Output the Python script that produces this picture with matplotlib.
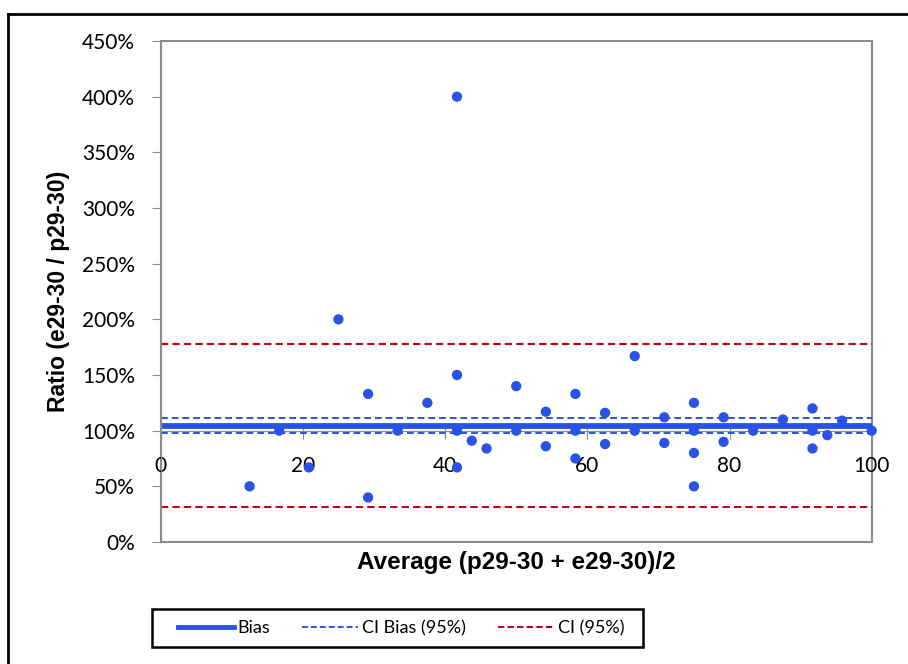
import matplotlib.pyplot as plt
from matplotlib.lines import Line2D
from matplotlib.patches import Rectangle
from matplotlib.ticker import PercentFormatter

# data (x = average, y = ratio in %)
avg = [12.5, 16.67, 20.83, 25.0, 29.17, 29.17, 33.33, 37.5,
       41.67, 41.67, 41.67, 41.67, 43.75, 45.83, 50.0, 50.0,
       54.17, 54.17, 58.33, 58.33, 58.33, 62.5, 62.5, 66.67, 66.67,
       70.83, 70.83, 75.0, 75.0, 75.0, 75.0, 79.17, 79.17, 83.33,
       87.5, 91.67, 91.67, 91.67, 93.75, 95.83, 100.0]
ratio = [50, 100, 67, 200, 133, 40, 100, 125,
         400, 150, 100, 67, 91, 84, 140, 100,
         117, 86, 133, 100, 75, 116, 88, 167, 100,
         112, 89, 125, 100, 80, 50, 112, 90, 100,
         110, 120, 100, 84, 96, 109, 100]

bias = 104.5
ci_bias = [97.5, 111.5]
ci = [31.5, 177.5]

x_ticks = [0, 20, 40, 60, 80, 100]
y_ticks = [0, 50, 100, 150, 200, 250, 300, 350, 400, 450]

blue = '#2a52e6'
red = '#c00018'
grey = '#8c8c8c'
tick_font = 'Lato'

W, H = 908, 664
fig = plt.figure(figsize=(W/100, H/100), dpi=100)
ax = fig.add_axes([160.7/W, 1-542/H, (871.7-160.7)/W, (542-41)/H])

ax.axhline(bias, color=blue, lw=4.2, zorder=2)
for v in ci_bias:
    ax.axhline(v, color=blue, lw=1.4, dashes=(3.5, 2), zorder=2)
for v in ci:
    ax.axhline(v, color=red, lw=1.5, dashes=(3.5, 2), zorder=2)

ax.scatter(avg, ratio, s=55, color=blue, edgecolors='none', zorder=4, clip_on=False)

ax.set_xlim(0, 100)
ax.set_ylim(0, 450)
ax.set_xticks(x_ticks)
ax.set_yticks(y_ticks)
ax.yaxis.set_major_formatter(PercentFormatter(decimals=0))

for s in ['top', 'right']:
    ax.spines[s].set_visible(False)
ax.spines['bottom'].set_position(('data', 100))
ax.spines['bottom'].set_color(grey)
ax.spines['bottom'].set_zorder(3)
ax.spines['left'].set_color(grey)
ax.add_patch(Rectangle((0, 0), 1, 1, transform=ax.transAxes, fill=False,
                       edgecolor=grey, lw=1.5, clip_on=False, zorder=1))

ax.tick_params(axis='x', direction='inout', length=11, pad=13, color=grey,
               labelsize=15)
ax.tick_params(axis='y', direction='out', length=6.5, pad=12, color=grey,
               labelsize=15)
for lab in ax.get_xticklabels() + ax.get_yticklabels():
    lab.set_family(tick_font)

fig.text(516/W, 1-563/H, 'Average (p29-30 + e29-30)/2', ha='center', va='center',
         fontsize=17.5, fontweight='bold', family='Liberation Sans')
fig.text(58/W, 1-291/H, 'Ratio (e29-30 / p29-30)', ha='center', va='center',
         rotation=90, fontsize=16.5, fontweight='bold', family='Liberation Sans')

# legend box drawn separately so its size matches the reference
fig.add_artist(Rectangle((152/W, 1-647/H), (643-152)/W, (647-609)/H,
                         transform=fig.transFigure, fill=False,
                         edgecolor='black', lw=1.8))
handles = [Line2D([], [], color=blue, lw=3.5),
           Line2D([], [], color=blue, lw=1.4, dashes=(3, 1.6)),
           Line2D([], [], color=red, lw=1.5, dashes=(3, 1.6))]
fig.legend(handles, ['Bias', 'CI Bias (95%)', 'CI (95%)'], ncol=3,
           loc='center', bbox_to_anchor=(401/W, 1-628/H), frameon=False,
           prop={'family': tick_font, 'size': 13},
           handlelength=3.1, handletextpad=0.2, columnspacing=1.8,
           borderpad=0.3, borderaxespad=0)

# outer chart frame (only top and left edges fall inside the image)
fig.add_artist(Line2D([8/W, 1], [1-14/H, 1-14/H], color='black', lw=2,
                      transform=fig.transFigure))
fig.add_artist(Line2D([8/W, 8/W], [0, 1-14/H], color='black', lw=2,
                      transform=fig.transFigure))

fig.savefig('out.png', dpi=100)
